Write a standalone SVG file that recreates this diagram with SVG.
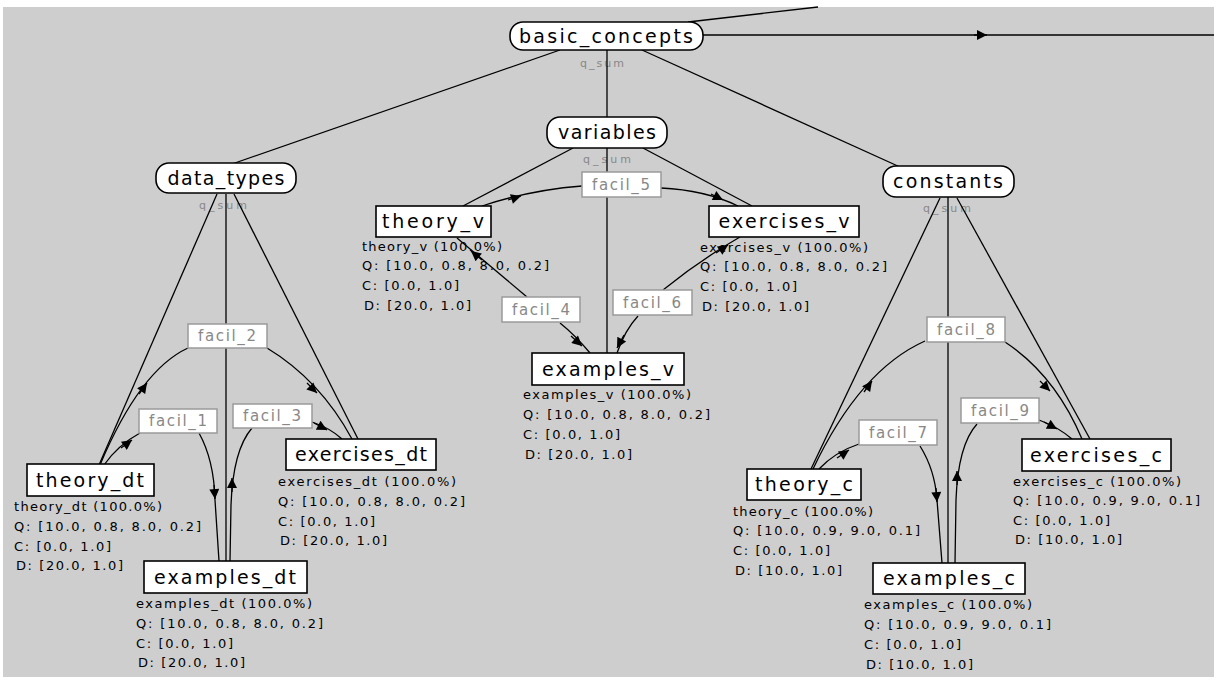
<svg xmlns="http://www.w3.org/2000/svg" width="1214" height="677" viewBox="0 0 1214 677">
<style>
.edge{fill:none;stroke:#000;stroke-width:1.3}
.ah{fill:none;stroke:#000;stroke-width:1.3;marker-end:url(#ah)}
.rn{fill:#fff;stroke:#000;stroke-width:1.6}
.bn{fill:#fff;stroke:#000;stroke-width:1.6}
.nl{font-family:"DejaVu Sans","Liberation Sans",sans-serif;font-size:19px;fill:#000;text-anchor:middle}
.info{font-family:"DejaVu Sans","Liberation Sans",sans-serif;font-size:13px;fill:#000}
.fb{fill:#fff;stroke:#9a9a9a;stroke-width:1.5}
.ft{font-family:"DejaVu Sans","Liberation Sans",sans-serif;font-size:15px;fill:#888;text-anchor:middle}
.qs{font-family:"DejaVu Sans","Liberation Sans",sans-serif;font-size:11px;fill:#888;text-anchor:middle}
</style>
<defs>
<marker id="ah" viewBox="0 0 10 10" refX="10" refY="5" markerWidth="13" markerHeight="10" markerUnits="userSpaceOnUse" orient="auto"><path d="M0,0 L10,5 L0,10 z" fill="#000"/></marker>
</defs>
<rect x="0" y="0" width="1214" height="677" fill="#fff"/>
<rect x="3" y="7" width="1211" height="670" fill="#cecece"/>

<g id="qsum-labels">
<text class="qs" x="602" y="67" textLength="44" lengthAdjust="spacing">q_sum</text>
<text class="qs" x="607" y="163" textLength="48" lengthAdjust="spacing">q_sum</text>
<text class="qs" x="223" y="209" textLength="48" lengthAdjust="spacing">q_sum</text>
<text class="qs" x="947" y="212" textLength="48" lengthAdjust="spacing">q_sum</text>
</g>

<g id="connectors">
<path class="edge" d="M688,22 L818,7"/>
<path class="edge" d="M703,35 L1214,35"/>
<path class="ah" d="M974,35 L987,35"/>
<path class="edge" d="M560,50 L232,164"/>
<path class="edge" d="M607,50 L607,117"/>
<path class="edge" d="M642,50 L900,167"/>

<path class="edge" d="M217,194 L99,465"/>
<path class="edge" d="M226,194 L226,561"/>
<path class="edge" d="M234,194 L358,439"/>
<path class="edge" d="M104,465 Q118,445 140,433"/>
<path class="ah" d="M121,448 L132,440"/>
<path class="edge" d="M199,433 Q214,460 215,500 L219,561"/>
<path class="ah" d="M214,485 L215,499"/>
<path class="edge" d="M100,465 Q140,370 188,348"/>
<path class="ah" d="M139,394 L147,383"/>
<path class="edge" d="M267,348 Q320,380 352,439"/>
<path class="ah" d="M307,383 L317,393"/>
<path class="edge" d="M230,561 L231,505 Q233,450 252,428"/>
<path class="ah" d="M232,492 L232,478"/>
<path class="edge" d="M312,422 Q330,428 342,439"/>
<path class="ah" d="M314,423 L327,430"/>

<path class="edge" d="M573,148 L463,206"/>
<path class="edge" d="M607,148 L607,353"/>
<path class="edge" d="M643,148 L752,206"/>
<path class="edge" d="M482,206 Q530,190 582,186"/>
<path class="ah" d="M508,200 L521,196"/>
<path class="edge" d="M661,188 Q705,190 738,206"/>
<path class="ah" d="M711,194 L723,200"/>
<path class="edge" d="M457,238 L527,297"/>
<path class="ah" d="M482,260 L471,251"/>
<path class="edge" d="M560,323 Q575,335 590,353"/>
<path class="ah" d="M571,336 L582,346"/>
<path class="edge" d="M638,316 Q625,330 617,353"/>
<path class="ah" d="M624,335 L617,348"/>
<path class="edge" d="M663,290 Q700,260 740,237"/>
<path class="ah" d="M716,253 L728,245"/>

<path class="edge" d="M940,198 L811,469"/>
<path class="edge" d="M948,197 L948,563"/>
<path class="edge" d="M957,198 L1090,439"/>
<path class="edge" d="M819,469 Q835,452 859,444"/>
<path class="ah" d="M837,458 L849,450"/>
<path class="edge" d="M920,446 Q935,470 937,500 L942,563"/>
<path class="ah" d="M936,488 L937,502"/>
<path class="edge" d="M813,469 Q860,370 925,341"/>
<path class="ah" d="M864,392 L872,381"/>
<path class="edge" d="M1005,342 Q1055,375 1082,439"/>
<path class="ah" d="M1040,381 L1050,391"/>
<path class="edge" d="M955,563 L956,500 Q958,445 977,424"/>
<path class="ah" d="M957,485 L957,471"/>
<path class="edge" d="M1039,420 Q1058,427 1072,439"/>
<path class="ah" d="M1044,422 L1057,429"/>
</g>

<g id="basic_concepts">
<rect class="rn" x="510" y="22" width="193" height="28" rx="13"/>
<text class="nl" x="606" y="43" textLength="174" lengthAdjust="spacing">basic_concepts</text>
</g>
<g id="variables">
<rect class="rn" x="547" y="117" width="120" height="31" rx="13"/>
<text class="nl" x="607" y="139" textLength="98" lengthAdjust="spacing">variables</text>
</g>
<g id="data_types">
<rect class="rn" x="156" y="163" width="140" height="30" rx="13"/>
<text class="nl" x="226" y="185" textLength="117" lengthAdjust="spacing">data_types</text>
</g>
<g id="constants">
<rect class="rn" x="883" y="166" width="131" height="31" rx="13"/>
<text class="nl" x="948" y="188" textLength="110" lengthAdjust="spacing">constants</text>
</g>

<g id="theory_dt">
<rect class="bn" x="27" y="464" width="127" height="32"/>
<text class="nl" x="90" y="487" textLength="108" lengthAdjust="spacing">theory_dt</text>
<text class="info" x="14" y="511" textLength="148" lengthAdjust="spacing">theory_dt (100.0%)</text>
<text class="info" x="14" y="531" textLength="187" lengthAdjust="spacing">Q: [10.0, 0.8, 8.0, 0.2]</text>
<text class="info" x="14" y="551" textLength="97" lengthAdjust="spacing">C: [0.0, 1.0]</text>
<text class="info" x="16" y="570" textLength="107" lengthAdjust="spacing">D: [20.0, 1.0]</text>
</g>
<g id="examples_dt">
<rect class="bn" x="144" y="561" width="163" height="32"/>
<text class="nl" x="225" y="584" textLength="142" lengthAdjust="spacing">examples_dt</text>
<text class="info" x="136" y="608" textLength="176" lengthAdjust="spacing">examples_dt (100.0%)</text>
<text class="info" x="136" y="628" textLength="187" lengthAdjust="spacing">Q: [10.0, 0.8, 8.0, 0.2]</text>
<text class="info" x="136" y="648" textLength="97" lengthAdjust="spacing">C: [0.0, 1.0]</text>
<text class="info" x="138" y="667" textLength="107" lengthAdjust="spacing">D: [20.0, 1.0]</text>
</g>
<g id="exercises_dt">
<rect class="bn" x="286" y="439" width="150" height="31"/>
<text class="nl" x="361" y="461" textLength="132" lengthAdjust="spacing">exercises_dt</text>
<text class="info" x="278" y="486" textLength="178" lengthAdjust="spacing">exercises_dt (100.0%)</text>
<text class="info" x="278" y="506" textLength="187" lengthAdjust="spacing">Q: [10.0, 0.8, 8.0, 0.2]</text>
<text class="info" x="278" y="526" textLength="97" lengthAdjust="spacing">C: [0.0, 1.0]</text>
<text class="info" x="280" y="545" textLength="107" lengthAdjust="spacing">D: [20.0, 1.0]</text>
</g>

<g id="theory_v">
<rect class="bn" x="376" y="206" width="115" height="31"/>
<text class="nl" x="433" y="228" textLength="102" lengthAdjust="spacing">theory_v</text>
<text class="info" x="362" y="251" textLength="140" lengthAdjust="spacing">theory_v (100.0%)</text>
<text class="info" x="362" y="270" textLength="187" lengthAdjust="spacing">Q: [10.0, 0.8, 8.0, 0.2]</text>
<text class="info" x="362" y="290" textLength="97" lengthAdjust="spacing">C: [0.0, 1.0]</text>
<text class="info" x="364" y="310" textLength="107" lengthAdjust="spacing">D: [20.0, 1.0]</text>
</g>
<g id="exercises_v">
<rect class="bn" x="709" y="206" width="150" height="31"/>
<text class="nl" x="784" y="228" textLength="131" lengthAdjust="spacing">exercises_v</text>
<text class="info" x="700" y="252" textLength="168" lengthAdjust="spacing">exercises_v (100.0%)</text>
<text class="info" x="700" y="271" textLength="187" lengthAdjust="spacing">Q: [10.0, 0.8, 8.0, 0.2]</text>
<text class="info" x="700" y="291" textLength="97" lengthAdjust="spacing">C: [0.0, 1.0]</text>
<text class="info" x="702" y="311" textLength="107" lengthAdjust="spacing">D: [20.0, 1.0]</text>
</g>
<g id="examples_v">
<rect class="bn" x="532" y="353" width="152" height="32"/>
<text class="nl" x="608" y="376" textLength="132" lengthAdjust="spacing">examples_v</text>
<text class="info" x="523" y="399" textLength="168" lengthAdjust="spacing">examples_v (100.0%)</text>
<text class="info" x="523" y="419" textLength="187" lengthAdjust="spacing">Q: [10.0, 0.8, 8.0, 0.2]</text>
<text class="info" x="523" y="439" textLength="97" lengthAdjust="spacing">C: [0.0, 1.0]</text>
<text class="info" x="525" y="459" textLength="107" lengthAdjust="spacing">D: [20.0, 1.0]</text>
</g>

<g id="theory_c">
<rect class="bn" x="747" y="469" width="114" height="31"/>
<text class="nl" x="804" y="491" textLength="98" lengthAdjust="spacing">theory_c</text>
<text class="info" x="733" y="516" textLength="140" lengthAdjust="spacing">theory_c (100.0%)</text>
<text class="info" x="733" y="535" textLength="187" lengthAdjust="spacing">Q: [10.0, 0.9, 9.0, 0.1]</text>
<text class="info" x="733" y="555" textLength="97" lengthAdjust="spacing">C: [0.0, 1.0]</text>
<text class="info" x="735" y="575" textLength="107" lengthAdjust="spacing">D: [10.0, 1.0]</text>
</g>
<g id="exercises_c">
<rect class="bn" x="1022" y="439" width="149" height="32"/>
<text class="nl" x="1096" y="462" textLength="132" lengthAdjust="spacing">exercises_c</text>
<text class="info" x="1013" y="486" textLength="168" lengthAdjust="spacing">exercises_c (100.0%)</text>
<text class="info" x="1013" y="505" textLength="187" lengthAdjust="spacing">Q: [10.0, 0.9, 9.0, 0.1]</text>
<text class="info" x="1013" y="525" textLength="97" lengthAdjust="spacing">C: [0.0, 1.0]</text>
<text class="info" x="1015" y="544" textLength="107" lengthAdjust="spacing">D: [10.0, 1.0]</text>
</g>
<g id="examples_c">
<rect class="bn" x="873" y="563" width="152" height="31"/>
<text class="nl" x="949" y="585" textLength="132" lengthAdjust="spacing">examples_c</text>
<text class="info" x="864" y="609" textLength="168" lengthAdjust="spacing">examples_c (100.0%)</text>
<text class="info" x="864" y="629" textLength="187" lengthAdjust="spacing">Q: [10.0, 0.9, 9.0, 0.1]</text>
<text class="info" x="864" y="649" textLength="97" lengthAdjust="spacing">C: [0.0, 1.0]</text>
<text class="info" x="866" y="669" textLength="107" lengthAdjust="spacing">D: [10.0, 1.0]</text>
</g>

<g id="facil_1"><rect class="fb" x="139" y="409" width="78" height="24"/><text class="ft" x="178" y="426" textLength="58" lengthAdjust="spacing">facil_1</text></g>
<g id="facil_2"><rect class="fb" x="188" y="324" width="79" height="24"/><text class="ft" x="227" y="341" textLength="58" lengthAdjust="spacing">facil_2</text></g>
<g id="facil_3"><rect class="fb" x="233" y="404" width="79" height="24"/><text class="ft" x="272" y="421" textLength="58" lengthAdjust="spacing">facil_3</text></g>
<g id="facil_4"><rect class="fb" x="502" y="297" width="78" height="25"/><text class="ft" x="541" y="315" textLength="58" lengthAdjust="spacing">facil_4</text></g>
<g id="facil_5"><rect class="fb" x="582" y="172" width="79" height="25"/><text class="ft" x="621" y="190" textLength="58" lengthAdjust="spacing">facil_5</text></g>
<g id="facil_6"><rect class="fb" x="613" y="290" width="79" height="25"/><text class="ft" x="652" y="308" textLength="58" lengthAdjust="spacing">facil_6</text></g>
<g id="facil_7"><rect class="fb" x="859" y="420" width="78" height="25"/><text class="ft" x="898" y="438" textLength="58" lengthAdjust="spacing">facil_7</text></g>
<g id="facil_8"><rect class="fb" x="927" y="317" width="78" height="25"/><text class="ft" x="966" y="335" textLength="58" lengthAdjust="spacing">facil_8</text></g>
<g id="facil_9"><rect class="fb" x="961" y="398" width="78" height="25"/><text class="ft" x="1000" y="416" textLength="58" lengthAdjust="spacing">facil_9</text></g>
</svg>
